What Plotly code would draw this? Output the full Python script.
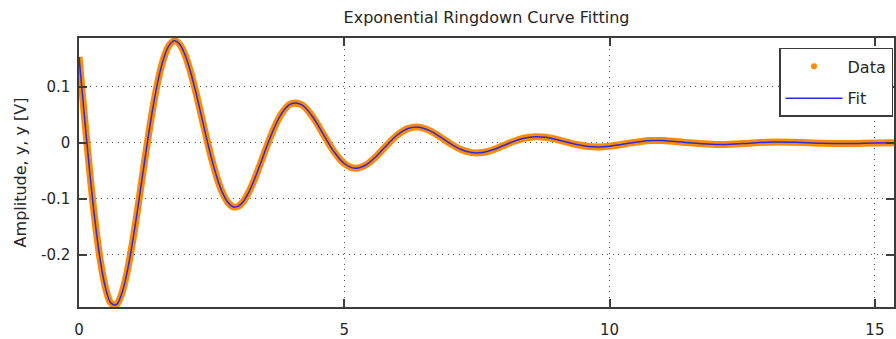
import plotly.graph_objects as go

# ---- data ----
time_s = [
    0.0, 0.1, 0.2, 0.3, 0.4, 0.5, 0.6, 0.7, 0.8, 0.9,
    1.0, 1.1, 1.2, 1.3, 1.4, 1.5, 1.6, 1.7, 1.8, 1.9,
    2.0, 2.1, 2.2, 2.3, 2.4, 2.5, 2.6, 2.7, 2.8, 2.9,
    3.0, 3.1, 3.2, 3.3, 3.4, 3.5, 3.6, 3.7, 3.8, 3.9,
    4.0, 4.2, 4.4, 4.6, 4.8, 5.0, 5.2, 5.4, 5.6, 5.8,
    6.0, 6.2, 6.4, 6.6, 6.8, 7.0, 7.2, 7.4, 7.6, 7.8,
    8.0, 8.2, 8.4, 8.6, 8.8, 9.0, 9.2, 9.4, 9.6, 9.8,
    10.0, 10.2, 10.4, 10.6, 10.8, 11.0, 11.5, 12.0, 12.5, 13.0,
    13.5, 14.0, 14.5, 15.0, 15.5,
]
data_v = [
    0.1537, 0.0497, -0.0499, -0.1380, -0.2089, -0.2588, -0.2856, -0.2890, -0.2706, -0.2337,
    -0.1823, -0.1215, -0.0562, 0.0081, 0.0667, 0.1159, 0.1523, 0.1747, 0.1825, 0.1760,
    0.1570, 0.1278, 0.0914, 0.0510, 0.0101, -0.0284, -0.0618, -0.0879, -0.1055, -0.1139,
    -0.1132, -0.1041, -0.0880, -0.0666, -0.0420, -0.0161, 0.0089, 0.0313, 0.0496, 0.0628,
    0.0702, 0.0681, 0.0473, 0.0163, -0.0146, -0.0367, -0.0452, -0.0398, -0.0241, -0.0040,
    0.0142, 0.0257, 0.0283, 0.0225, 0.0113, -0.0013, -0.0117, -0.0172, -0.0171, -0.0122,
    -0.0046, 0.0031, 0.0088, 0.0112, 0.0101, 0.0063, 0.0014, -0.0032, -0.0063, -0.0070,
    -0.0057, -0.0031, 0.0001, 0.0028, 0.0042, 0.0043, 0.0003, -0.0028, -0.0011, 0.0015,
    0.0012, -0.0006, -0.0010, 0.0001, 0.0007,
]
fit_v = list(data_v)  # the fit overlays the data within a pixel

x_ticks = [0, 5, 10, 15]
x_tick_labels = ["0", "5", "10", "15"]
y_ticks = [-0.2, -0.1, 0, 0.1]
y_tick_labels = ["-0.2", "-0.1", "0", "0.1"]

title_text = "Exponential Ringdown Curve Fitting"
y_title = "Amplitude, y, y [V]"

ORANGE = "#FF8A00"
BLUE = "#2A2AE6"
AX = "#3C3C3C"
TXT = "#262626"
FONT = "DejaVu Sans"

fig = go.Figure()

# Data: dense samples drawn as a thick orange band
fig.add_trace(go.Scatter(
    x=time_s, y=data_v, mode="lines",
    line=dict(color=ORANGE, width=7, shape="spline", smoothing=1),
    showlegend=False, hoverinfo="skip",
))
# legend entry for data (dot marker)
fig.add_trace(go.Scatter(
    x=[None], y=[None], mode="markers", name="Data",
    marker=dict(color=ORANGE, size=6, symbol="circle"),
    legendgroup="a",
))
# Fit line
fig.add_trace(go.Scatter(
    x=time_s, y=fit_v, mode="lines", name="Fit",
    line=dict(color=BLUE, width=1.5, shape="spline", smoothing=1),
    legendgroup="b",
))

fig.update_layout(
    width=896, height=339,
    margin=dict(l=79, r=0, t=38, b=32),
    paper_bgcolor="white", plot_bgcolor="white",
    font=dict(family=FONT, size=15, color=TXT),
    title=dict(text=title_text, x=0.5, xref="paper", y=1 - 17 / 339,
               yref="container", xanchor="center", yanchor="middle",
               font=dict(family=FONT, size=16, color=TXT)),
    showlegend=True,
    legend=dict(
        x=0.9988, y=0.963, xanchor="right", yanchor="top",
        bgcolor="white", bordercolor=AX, borderwidth=1.5,
        font=dict(family=FONT, size=16, color=TXT),
        traceorder="grouped", tracegroupgap=8, itemwidth=57,
    ),
)

fig.update_xaxes(
    range=[0, 15.36], tickmode="array", tickvals=x_ticks, ticktext=x_tick_labels,
    showline=True, linecolor=AX, linewidth=1.5, mirror="ticks",
    ticks="inside", ticklen=8, tickcolor=AX, tickwidth=1.5,
    showgrid=True, gridcolor="#555555", gridwidth=1, griddash="1px,4.5px",
    zeroline=False, ticklabelstandoff=8,
    tickfont=dict(family=FONT, size=15, color=TXT),
)
fig.update_yaxes(
    range=[-0.293, 0.1875], tickmode="array", tickvals=y_ticks, ticktext=y_tick_labels,
    showline=True, linecolor=AX, linewidth=1.5, mirror="ticks",
    ticks="inside", ticklen=8, tickcolor=AX, tickwidth=1.5,
    showgrid=True, gridcolor="#555555", gridwidth=1, griddash="1px,4.5px",
    zeroline=False, ticklabelstandoff=4,
    tickfont=dict(family=FONT, size=15, color=TXT),
    title=dict(text=y_title, font=dict(family=FONT, size=16, color=TXT), standoff=10),
)

fig.write_html("out.html")
